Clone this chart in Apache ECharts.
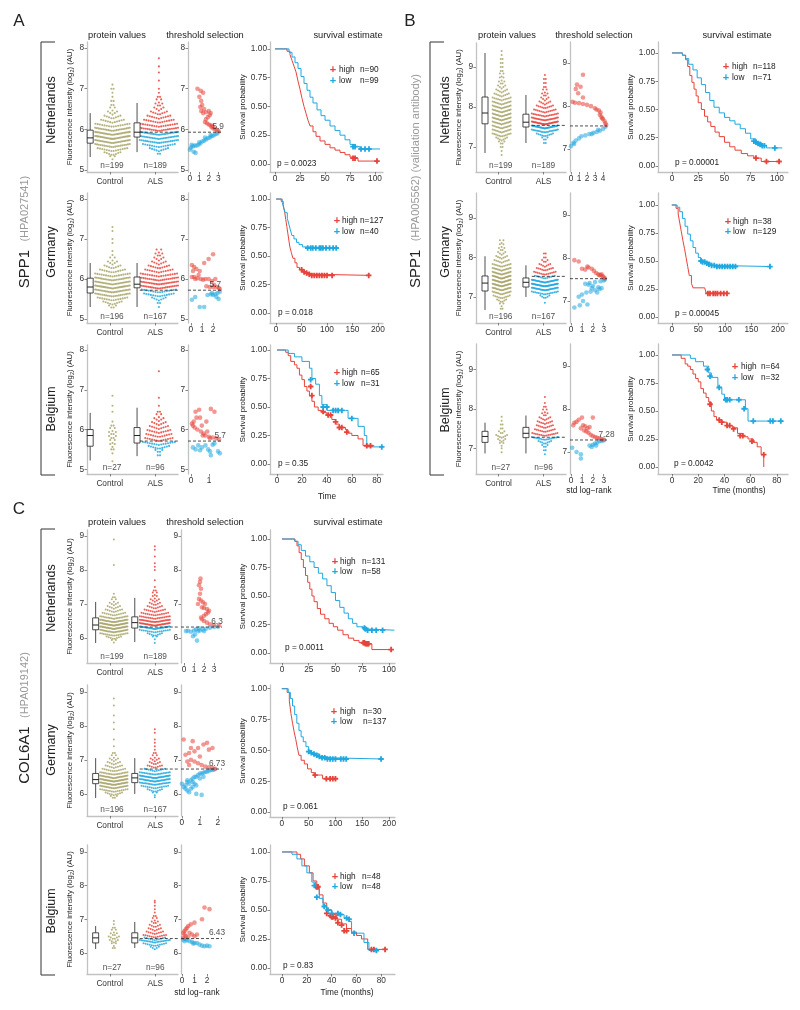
<!DOCTYPE html>
<html><head><meta charset="utf-8">
<script src="https://cdn.jsdelivr.net/npm/echarts@6/dist/echarts.min.js"></script>
<style>html,body{margin:0;padding:0;background:#fff}#c{width:800px;height:1010px}</style>
</head><body><div id="c"></div>
<script>
// ================= DATA =================
// protein values: [value bin, count]; box: [low whisker, q1, median, q3, high whisker]
// ---- A: SPP1 (HPA027541)
const A1_ctrl = [[5.3,3],[5.4,8],[5.5,14],[5.6,20],[5.7,26],[5.8,28],[5.9,26],[6.0,22],[6.1,16],[6.2,11],[6.3,8],[6.4,5],[6.5,3],[6.6,2],[6.7,2],[6.8,1],[6.9,1],[7.0,2],[7.1,1]];
const A1_als = [[5.4,2],[5.5,9],[5.6,15],[5.7,22],[5.8,25],[5.9,26],[6.0,20],[6.1,17],[6.2,14],[6.3,11],[6.4,8],[6.5,5],[6.6,4],[6.7,3],[6.8,2],[6.9,1],[7.0,1],[7.2,1],[7.4,1],[7.55,1],[7.75,1]];
const A1_ctrlBox = [5.32,5.66,5.79,5.98,6.40];
const A1_alsBox = [5.44,5.81,5.93,6.16,6.65];
const A1_thr = 5.93, A1_thrLabel = '5.9', A1_n = ['n=199','n=189'];
const A1_thrHigh = [[3.05,5.95],[2.9,5.98],[2.7,6.0],[2.5,6.02],[2.3,6.05],[2.2,6.1],[2.0,6.12],[1.8,6.15],[1.6,6.18],[1.7,6.25],[1.9,6.3],[2.1,6.35],[2.2,6.4],[2.0,6.45],[1.7,6.42],[1.4,6.4],[1.2,6.45],[1.1,6.55],[1.3,6.6],[1.2,6.7],[1.0,6.8],[1.4,6.9],[0.8,7.0],[1.15,6.95],[2.4,6.08],[1.5,6.5]];
const A1_thrLow = [[0,5.5],[0.1,5.55],[0.3,5.58],[0.5,5.6],[0.7,5.6],[0.9,5.62],[1.1,5.65],[1.3,5.7],[1.5,5.72],[1.7,5.75],[1.9,5.78],[2.1,5.8],[2.3,5.83],[2.5,5.85],[2.7,5.88],[2.9,5.9],[0.4,5.45],[0.6,5.42],[0.2,5.62],[1.0,5.68],[1.6,5.8],[2.2,5.86]];
const A1_kmHigh = [[0,1],[12,0.98],[15,0.95],[17,0.9],[19,0.85],[21,0.8],[23,0.72],[25,0.65],[27,0.57],[29,0.5],[31,0.44],[33,0.38],[35,0.33],[38,0.28],[41,0.24],[45,0.2],[50,0.17],[55,0.14],[60,0.12],[65,0.1],[70,0.08],[75,0.06],[80,0.05],[83,0.025],[102,0.025]];
const A1_kmLow = [[0,1],[14,0.97],[17,0.93],[20,0.88],[23,0.83],[26,0.76],[29,0.7],[32,0.64],[35,0.58],[38,0.53],[42,0.47],[46,0.42],[50,0.38],[55,0.33],[60,0.29],[65,0.25],[70,0.21],[75,0.17],[80,0.15],[85,0.13],[105,0.13]];
const A1_cenHigh = [[78,0.05],[80,0.05],[102,0.025]];
const A1_cenLow = [[78,0.15],[80,0.15],[86,0.13],[90,0.13],[94,0.13]];
const A1_legN = ['n=90','n=99'], A1_p = 'p = 0.0023';

const A2_ctrl = [[5.3,4],[5.4,9],[5.5,14],[5.6,20],[5.7,24],[5.8,27],[5.9,25],[6.0,22],[6.1,17],[6.2,12],[6.3,8],[6.4,5],[6.5,3],[6.6,1],[6.7,1],[6.9,1],[7.0,1],[7.2,1],[7.3,1]];
const A2_als = [[5.3,1],[5.4,2],[5.5,7],[5.6,14],[5.7,16],[5.8,23],[5.9,24],[6.0,21],[6.1,17],[6.2,13],[6.3,10],[6.4,7],[6.5,5],[6.6,4],[6.7,3]];
const A2_ctrlBox = [5.3,5.65,5.8,6.02,6.4];
const A2_alsBox = [5.3,5.78,5.87,6.05,6.4];
const A2_thr = 5.72, A2_thrLabel = '5.7', A2_n = ['n=196','n=167'];
const A2_thrHigh = [[0.1,6.35],[0.3,6.3],[0.2,6.2],[0.5,6.25],[0.8,6.2],[1.2,6.4],[1.6,6.5],[2.0,6.62],[0.1,6.05],[0.3,6.05],[0.6,6.02],[0.9,6.0],[1.1,5.98],[1.3,6.0],[1.6,6.0],[1.9,5.95],[2.1,5.85],[2.3,5.8],[2.5,5.78],[1.4,5.82],[1.7,5.8],[2.0,5.8],[2.6,5.75],[0.4,6.0],[2.2,6.0],[0.7,6.1]];
const A2_thrLow = [[1.8,5.62],[2.0,5.6],[2.2,5.62],[2.4,5.65],[2.6,5.68],[1.5,5.6],[0.1,5.48],[0.4,5.55],[0.8,5.3],[1.2,5.3],[2.3,5.55],[2.5,5.5],[1.9,5.65]];
const A2_kmHigh = [[0,1],[10,0.98],[14,0.95],[17,0.88],[19,0.82],[21,0.76],[23,0.7],[25,0.64],[27,0.58],[30,0.53],[33,0.48],[37,0.44],[41,0.4],[46,0.38],[52,0.36],[58,0.35],[65,0.34],[75,0.33],[185,0.33]];
const A2_kmLow = [[0,1],[12,0.97],[15,0.92],[18,0.88],[22,0.83],[25,0.78],[28,0.73],[31,0.68],[35,0.65],[40,0.62],[45,0.6],[52,0.58],[60,0.57],[120,0.57]];
const A2_cenHigh = [[50,0.38],[55,0.36],[60,0.35],[65,0.34],[70,0.33],[75,0.33],[80,0.33],[85,0.33],[90,0.33],[95,0.33],[100,0.33],[110,0.33],[182,0.33]];
const A2_cenLow = [[62,0.57],[68,0.57],[72,0.57],[78,0.57],[85,0.57],[88,0.57],[92,0.57],[98,0.57],[105,0.57],[112,0.57],[118,0.57]];
const A2_legN = ['n=127','n=40'], A2_p = 'p = 0.018';

const A3_ctrl = [[5.2,1],[5.4,1],[5.5,2],[5.6,3],[5.7,3],[5.8,4],[5.9,4],[6.0,3],[6.1,2],[6.2,1],[6.45,1],[6.6,1],[6.85,1]];
const A3_als = [[5.35,2],[5.45,4],[5.55,10],[5.65,15],[5.75,13],[5.85,12],[5.95,11],[6.05,9],[6.15,7],[6.25,5],[6.35,3],[6.45,2],[6.6,1],[6.8,1],[7.47,1]];
const A3_ctrlBox = [5.22,5.58,5.85,6.0,6.42];
const A3_alsBox = [5.33,5.66,5.85,6.05,6.55];
const A3_thr = 5.71, A3_thrLabel = '5.7', A3_n = ['n=27','n=96'];
const A3_thrHigh = [[0.05,6.15],[0.1,6.1],[0.15,6.2],[0.2,6.05],[0.3,6.3],[0.25,6.45],[0.45,6.5],[0.5,6.3],[0.35,6.0],[0.55,5.95],[0.6,6.1],[0.7,5.9],[0.8,5.85],[0.9,5.95],[1.0,5.82],[1.1,6.52],[1.2,5.8],[1.3,6.45],[1.4,5.78],[1.55,5.75],[0.85,6.2],[0.65,5.85],[1.05,5.78]];
const A3_thrLow = [[0.1,5.55],[0.25,5.5],[0.4,5.6],[0.6,5.55],[0.8,5.6],[0.95,5.5],[1.1,5.35],[1.05,5.45],[1.2,5.62],[1.5,5.45],[1.6,5.4],[1.3,5.65],[0.5,5.48]];
const A3_kmHigh = [[0,1],[7,0.98],[9,0.95],[11,0.9],[14,0.87],[16,0.84],[18,0.78],[20,0.74],[22,0.68],[24,0.64],[26,0.6],[28,0.55],[30,0.5],[33,0.47],[36,0.45],[40,0.43],[44,0.39],[47,0.35],[50,0.32],[55,0.3],[57,0.27],[60,0.25],[65,0.22],[69,0.16],[78,0.16]];
const A3_kmLow = [[0,1],[9,0.97],[14,0.94],[20,0.9],[26,0.84],[28,0.75],[31,0.7],[34,0.6],[36,0.52],[40,0.47],[55,0.47],[57,0.4],[62,0.4],[65,0.33],[70,0.25],[72,0.15],[85,0.15]];
const A3_cenHigh = [[27,0.68],[28,0.6],[37,0.46],[41,0.43],[43,0.43],[47,0.37],[50,0.32],[52,0.32],[56,0.28],[72,0.16],[75,0.16]];
const A3_cenLow = [[27,0.74],[37,0.5],[40,0.5],[45,0.47],[47,0.47],[49,0.47],[52,0.47],[60,0.4],[84,0.15]];
const A3_legN = ['n=65','n=31'], A3_p = 'p = 0.35';

// ---- B: SPP1 (HPA005562) (validation antibody)
const B1_ctrl = [[6.8,1],[6.9,1],[7.0,2],[7.1,4],[7.2,7],[7.3,12],[7.4,13],[7.5,14],[7.6,15],[7.7,17],[7.8,17],[7.9,16],[8.0,15],[8.1,13],[8.2,11],[8.3,9],[8.4,7],[8.5,5],[8.6,4],[8.7,3],[8.8,3],[8.9,2],[9.0,2],[9.1,2],[9.2,2],[9.3,1],[9.4,1]];
const B1_als = [[7.1,2],[7.2,4],[7.3,10],[7.4,20],[7.5,35],[7.6,30],[7.7,22],[7.8,17],[7.9,13],[8.0,10],[8.1,7],[8.2,5],[8.3,4],[8.4,3],[8.5,2],[8.6,2],[8.7,2],[8.8,1]];
const B1_ctrlBox = [6.85,7.58,7.85,8.25,9.35];
const B1_alsBox = [7.1,7.5,7.62,7.82,8.3];
const B1_thr = 7.54, B1_thrLabel = '7.54', B1_n = ['n=199','n=189'];
const B1_thrHigh = [[4.4,7.56],[4.3,7.6],[4.2,7.65],[4.0,7.7],[3.8,7.75],[3.6,7.8],[3.7,7.85],[3.5,7.9],[3.0,7.95],[2.5,8.0],[2.0,8.03],[1.5,8.05],[1.0,8.07],[0.5,8.08],[0.2,8.1],[1.5,8.2],[0.9,8.3],[0.6,8.4],[1.2,8.45],[0.75,8.5],[1.5,8.73],[3.9,7.72],[3.2,7.92]];
const B1_thrLow = [[0,7.07],[0.3,7.15],[0.6,7.2],[1.0,7.25],[1.3,7.3],[1.8,7.32],[2.3,7.35],[2.8,7.38],[3.2,7.4],[3.6,7.43],[4.0,7.47],[4.3,7.52],[3.4,7.45],[2.6,7.35],[0.4,7.12]];
const B1_kmHigh = [[0,1],[10,0.98],[13,0.94],[15,0.88],[17,0.8],[19,0.74],[21,0.68],[23,0.62],[25,0.56],[28,0.5],[31,0.44],[34,0.39],[37,0.35],[41,0.3],[45,0.26],[50,0.21],[55,0.17],[60,0.14],[66,0.11],[72,0.09],[78,0.07],[85,0.04],[103,0.04]];
const B1_kmLow = [[0,1],[10,0.98],[13,0.95],[16,0.9],[20,0.85],[24,0.78],[28,0.72],[32,0.65],[36,0.58],[40,0.52],[45,0.47],[50,0.43],[55,0.4],[60,0.37],[65,0.33],[70,0.29],[75,0.24],[80,0.21],[85,0.18],[90,0.16],[105,0.16]];
const B1_cenHigh = [[80,0.07],[90,0.04],[102,0.04]];
const B1_cenLow = [[78,0.22],[80,0.21],[82,0.2],[84,0.19],[86,0.18],[88,0.18],[98,0.16]];
const B1_legN = ['n=118','n=71'], B1_p = 'p = 0.00001';

const B2_ctrl = [[6.7,2],[6.8,3],[6.9,6],[7.0,10],[7.1,14],[7.2,18],[7.3,22],[7.4,23],[7.5,22],[7.6,18],[7.7,15],[7.8,12],[7.9,9],[8.0,7],[8.1,5],[8.2,4],[8.3,3],[8.4,3]];
const B2_als = [[6.85,1],[7.0,6],[7.1,16],[7.2,28],[7.3,36],[7.4,30],[7.5,12],[7.6,13],[7.7,10],[7.8,7],[7.9,4],[8.0,2],[8.1,2]];
const B2_ctrlBox = [6.67,7.15,7.35,7.53,8.03];
const B2_alsBox = [7.0,7.25,7.37,7.48,7.8];
const B2_thr = 7.52, B2_thrLabel = '7.52', B2_n = ['n=196','n=167'];
const B2_thrHigh = [[0.3,7.95],[0.7,7.92],[1.0,7.75],[1.3,7.73],[1.6,7.78],[1.9,7.75],[2.1,7.7],[2.3,7.65],[2.5,7.62],[2.7,7.6],[2.9,7.58],[3.0,7.55],[3.1,7.53],[2.8,7.62],[2.6,7.6],[1.5,7.8]];
const B2_thrLow = [[0.3,6.85],[0.8,6.9],[1.1,7.0],[0.7,7.1],[1.0,7.15],[1.4,7.2],[1.8,7.22],[2.2,7.25],[2.6,7.28],[2.8,7.3],[2.5,7.32],[2.0,7.35],[1.6,7.38],[1.3,7.4],[1.7,7.42],[2.2,7.44],[2.7,7.46],[3.0,7.48],[3.1,7.5],[1.9,7.3],[2.4,7.2],[1.5,6.92]];
const B2_kmHigh = [[0,1],[8,0.97],[12,0.92],[15,0.84],[18,0.76],[21,0.68],[24,0.61],[27,0.53],[30,0.45],[33,0.37],[37,0.3],[40,0.26],[62,0.26],[65,0.21],[105,0.21]];
const B2_kmLow = [[0,1],[10,0.98],[15,0.94],[20,0.88],[25,0.81],[30,0.74],[35,0.68],[40,0.62],[45,0.57],[50,0.53],[55,0.5],[60,0.49],[65,0.48],[75,0.46],[85,0.45],[188,0.45]];
const B2_cenHigh = [[68,0.21],[72,0.21],[78,0.21],[82,0.21],[86,0.21],[92,0.21],[98,0.21],[104,0.21]];
const B2_cenLow = [[55,0.5],[58,0.49],[62,0.49],[66,0.48],[70,0.47],[75,0.46],[80,0.46],[85,0.45],[90,0.45],[95,0.45],[100,0.45],[105,0.45],[110,0.45],[115,0.45],[120,0.45],[185,0.45]];
const B2_legN = ['n=38','n=129'], B2_p = 'p = 0.00045';

const B3_ctrl = [[6.9,1],[7.0,1],[7.1,3],[7.2,5],[7.3,7],[7.4,4],[7.5,2],[7.6,2],[7.7,1],[7.8,1]];
const B3_als = [[6.85,1],[6.95,2],[7.05,4],[7.15,8],[7.25,17],[7.35,15],[7.45,12],[7.55,10],[7.65,9],[7.75,7],[7.85,4],[7.95,3],[8.05,2],[8.15,1],[8.3,1]];
const B3_ctrlBox = [6.87,7.15,7.3,7.43,7.65];
const B3_alsBox = [6.87,7.27,7.38,7.53,7.83];
const B3_thr = 7.28, B3_thrLabel = '7.28', B3_n = ['n=27','n=96'];
const B3_thrHigh = [[0.3,7.68],[0.5,7.7],[0.2,7.62],[0.7,7.75],[1.0,7.8],[1.3,7.6],[1.5,7.55],[1.2,7.5],[1.4,7.48],[1.6,7.45],[1.8,7.4],[2.0,7.37],[2.2,7.35],[2.4,7.33],[2.6,7.32],[2.8,7.3],[1.1,7.62],[1.7,7.58],[0.9,7.55],[2.0,7.8],[3.0,7.29]];
const B3_thrLow = [[0.1,7.1],[0.5,7.0],[0.9,6.95],[0.9,6.85],[1.7,7.15],[2.0,7.17],[2.2,7.2],[2.4,7.22],[2.6,7.25],[2.8,7.26],[3.0,7.27],[1.9,7.12],[2.3,7.15]];
const B3_kmHigh = [[0,1],[7,0.97],[10,0.92],[12,0.9],[14,0.87],[16,0.83],[18,0.79],[20,0.76],[22,0.7],[24,0.66],[26,0.62],[28,0.58],[30,0.5],[32,0.45],[34,0.42],[38,0.4],[42,0.37],[46,0.35],[50,0.3],[54,0.27],[58,0.25],[62,0.22],[65,0.18],[68,0.11],[70,0]];
const B3_kmLow = [[0,1],[14,0.97],[18,0.94],[24,0.9],[28,0.84],[30,0.8],[35,0.71],[38,0.65],[40,0.6],[54,0.6],[56,0.52],[58,0.41],[85,0.41]];
const B3_cenHigh = [[29,0.56],[36,0.42],[38,0.4],[42,0.37],[44,0.37],[47,0.34],[52,0.28],[54,0.28],[61,0.23],[70,0.11]];
const B3_cenLow = [[27,0.87],[29,0.81],[36,0.71],[41,0.6],[42,0.6],[44,0.6],[51,0.6],[55,0.52],[62,0.41],[75,0.41],[77,0.41],[83,0.41]];
const B3_legN = ['n=64','n=32'], B3_p = 'p = 0.0042';

// ---- C: COL6A1 (HPA019142)
const C1_ctrl = [[5.9,3],[6.0,8],[6.1,16],[6.2,24],[6.3,30],[6.4,33],[6.5,26],[6.6,18],[6.7,12],[6.8,9],[6.9,7],[7.0,5],[7.1,3],[7.2,2],[7.3,1],[8.15,1],[8.9,1]];
const C1_als = [[5.85,1],[6.0,3],[6.1,8],[6.2,16],[6.3,30],[6.4,29],[6.5,24],[6.6,18],[6.7,14],[6.8,11],[6.9,8],[7.0,6],[7.1,5],[7.2,3],[7.3,3],[7.4,2],[7.5,1],[7.7,1],[8.0,1],[8.1,1],[8.2,1],[8.4,1],[8.6,1],[8.7,1]];
const C1_ctrlBox = [5.85,6.24,6.38,6.59,7.06];
const C1_alsBox = [5.88,6.29,6.45,6.62,7.18];
const C1_thr = 6.32, C1_thrLabel = '6.3', C1_n = ['n=199','n=189'];
const C1_thrHigh = [[3.5,6.37],[3.0,6.38],[2.6,6.4],[2.3,6.45],[2.0,6.5],[1.8,6.55],[1.7,6.6],[2.0,6.65],[2.2,6.7],[2.5,6.8],[2.3,6.85],[2.0,6.88],[1.8,6.9],[2.1,7.0],[1.9,7.05],[1.7,7.1],[1.5,7.15],[1.6,7.3],[1.7,7.45],[1.5,7.55],[1.6,7.65],[1.65,7.75],[1.4,7.0],[2.4,6.75]];
const C1_thrLow = [[0.2,6.2],[0.4,6.21],[0.7,6.18],[1.0,6.22],[1.2,6.25],[1.4,6.2],[1.6,6.22],[1.9,6.25],[2.2,6.27],[2.6,6.3],[3.0,6.32],[3.4,6.33],[1.1,6.1],[1.3,5.92],[0.9,6.05],[2.0,6.2],[1.5,6.28]];
const C1_kmHigh = [[0,1],[12,0.98],[14,0.94],[16,0.88],[18,0.82],[20,0.75],[22,0.68],[24,0.62],[26,0.56],[28,0.5],[30,0.45],[33,0.39],[36,0.34],[40,0.3],[44,0.26],[48,0.23],[52,0.2],[57,0.16],[62,0.13],[67,0.11],[72,0.09],[80,0.08],[84,0.03],[103,0.03]];
const C1_kmLow = [[0,1],[12,0.98],[15,0.95],[18,0.9],[22,0.85],[26,0.8],[30,0.75],[34,0.7],[38,0.65],[42,0.59],[46,0.53],[50,0.46],[54,0.4],[58,0.35],[62,0.3],[66,0.26],[70,0.23],[76,0.21],[80,0.2],[105,0.2]];
const C1_cenHigh = [[76,0.09],[77,0.09],[78,0.08],[79,0.08],[80,0.08],[81,0.08],[102,0.03]];
const C1_cenLow = [[77,0.22],[78,0.21],[80,0.2],[84,0.2],[88,0.2],[94,0.2]];
const C1_legN = ['n=131','n=58'], C1_p = 'p = 0.0011';

const C2_ctrl = [[5.9,4],[6.0,9],[6.1,15],[6.2,22],[6.3,28],[6.4,30],[6.5,25],[6.6,18],[6.7,12],[6.8,9],[6.9,7],[7.0,5],[7.1,3],[7.2,2],[7.4,1],[7.6,1],[7.9,1],[8.1,1],[8.3,1],[8.6,1],[8.8,1]];
const C2_als = [[5.9,1],[6.0,3],[6.1,8],[6.2,14],[6.3,22],[6.4,28],[6.5,30],[6.6,20],[6.7,11],[6.8,8],[6.9,6],[7.0,5],[7.1,3],[7.2,2],[7.3,1],[7.4,1],[7.5,1],[7.6,1],[7.8,1],[7.9,1]];
const C2_ctrlBox = [5.88,6.3,6.42,6.6,7.05];
const C2_alsBox = [6.0,6.33,6.47,6.6,7.05];
const C2_thr = 6.73, C2_thrLabel = '6.73', C2_n = ['n=196','n=167'];
const C2_thrHigh = [[0.1,7.6],[0.6,7.55],[0.2,7.15],[0.4,7.2],[0.5,7.35],[0.7,7.25],[0.9,7.35],[1.0,7.1],[1.2,7.45],[1.4,7.5],[1.5,7.3],[1.7,7.35],[0.5,7.0],[0.3,6.95],[0.7,6.95],[0.9,6.9],[1.1,6.85],[1.3,6.8],[1.5,6.78],[1.7,6.76],[1.85,6.74],[0.4,6.85]];
const C2_thrLow = [[0.0,6.3],[0.1,6.2],[0.2,6.25],[0.3,6.35],[0.4,6.3],[0.5,6.4],[0.6,6.45],[0.7,6.5],[0.8,6.5],[0.9,6.55],[1.0,6.6],[1.1,6.6],[1.2,6.62],[1.3,6.65],[1.4,6.65],[1.5,6.68],[1.6,6.7],[1.7,6.7],[1.8,6.72],[0.3,6.1],[0.4,6.05],[0.5,6.15],[0.6,6.2],[0.7,6.3],[0.8,6.0],[1.1,5.97],[0.3,6.4],[0.6,6.35],[1.0,6.45],[1.2,6.5],[0.2,6.15],[0.8,6.25]];
const C2_kmHigh = [[0,1],[10,0.97],[14,0.9],[17,0.8],[20,0.72],[23,0.65],[26,0.59],[29,0.52],[32,0.46],[36,0.42],[42,0.39],[48,0.35],[55,0.32],[60,0.3],[72,0.3],[76,0.27],[100,0.27]];
const C2_kmLow = [[0,1],[12,0.97],[16,0.92],[20,0.86],[24,0.79],[28,0.72],[32,0.66],[36,0.61],[40,0.57],[45,0.53],[50,0.5],[55,0.48],[60,0.47],[70,0.45],[80,0.44],[90,0.43],[188,0.43]];
const C2_cenHigh = [[62,0.3],[83,0.27],[90,0.27],[95,0.27],[100,0.27]];
const C2_cenLow = [[50,0.49],[55,0.48],[60,0.47],[65,0.46],[70,0.45],[75,0.44],[80,0.44],[85,0.43],[90,0.43],[95,0.43],[100,0.43],[110,0.43],[115,0.43],[120,0.43],[185,0.43]];
const C2_legN = ['n=30','n=137'], C2_p = 'p = 0.061';

const C3_ctrl = [[6.15,2],[6.25,3],[6.35,5],[6.45,6],[6.55,4],[6.65,3],[6.75,2],[6.85,1],[6.95,1]];
const C3_als = [[6.15,5],[6.25,12],[6.35,20],[6.42,11],[6.5,12],[6.6,9],[6.7,7],[6.8,6],[6.9,4],[7.0,3],[7.1,2],[7.2,1],[7.3,1],[7.4,1],[7.5,1],[7.55,1]];
const C3_ctrlBox = [6.12,6.3,6.45,6.6,6.8];
const C3_alsBox = [6.15,6.3,6.45,6.6,6.92];
const C3_thr = 6.43, C3_thrLabel = '6.43', C3_n = ['n=27','n=96'];
const C3_thrHigh = [[0.1,6.6],[0.2,6.65],[0.3,6.7],[0.4,6.75],[0.5,6.8],[0.2,6.55],[0.6,6.6],[0.8,6.55],[1.0,6.5],[1.2,6.55],[0.7,6.85],[1.0,6.9],[1.6,7.0],[2.2,7.3],[1.8,7.35],[0.3,6.5],[0.5,6.48],[0.1,6.45]];
const C3_thrLow = [[0.1,6.4],[0.2,6.35],[0.4,6.38],[0.6,6.35],[0.8,6.33],[1.0,6.3],[1.2,6.3],[1.4,6.25],[1.6,6.22],[1.8,6.2],[2.0,6.22],[2.2,6.2],[0.3,6.42],[0.9,6.28]];
const C3_kmHigh = [[0,1],[12,0.98],[15,0.94],[18,0.88],[22,0.82],[25,0.75],[28,0.7],[30,0.63],[33,0.56],[36,0.5],[40,0.46],[44,0.42],[48,0.38],[52,0.34],[56,0.31],[60,0.28],[64,0.25],[69,0.16],[84,0.16]];
const C3_kmLow = [[0,1],[8,0.98],[12,0.94],[16,0.88],[20,0.82],[24,0.74],[27,0.68],[30,0.6],[33,0.54],[36,0.5],[40,0.47],[46,0.46],[50,0.43],[54,0.4],[56,0.3],[62,0.3],[66,0.22],[70,0.15],[77,0.15]];
const C3_cenHigh = [[28,0.7],[29,0.7],[36,0.47],[39,0.45],[40,0.44],[41,0.44],[43,0.43],[45,0.39],[48,0.37],[50,0.32],[52,0.32],[72,0.16],[74,0.16],[83,0.16]];
const C3_cenLow = [[26,0.71],[28,0.61],[34,0.53],[37,0.5],[40,0.47],[45,0.47],[47,0.46],[52,0.43],[54,0.42],[58,0.3],[76,0.15]];
const C3_legN = ['n=48','n=48'], C3_p = 'p = 0.83';

// tick labels
const TICKS_A = [5,6,7,8], TICKS_B = [7,8,9], TICKS_C = [6,7,8,9];
const TICKS_S = [0,0.25,0.5,0.75,1];
const CATS = ['Control','ALS'];

// ================= STYLE / LAYOUT =================
const FONT = '"Liberation Sans", Arial, Helvetica, sans-serif';
const RED = '#E8433B', BLUE = '#20A8E0', OLIVE = '#A8A469', AXC = '#C2C2C2', TXT = '#222';
const PLUS = 'path://M2,0h2v2h2v2h-2v2h-2v-2h-2v-2h2z';
const SW_A = {cBox:-0.43, cCen:0.06, cHalf:0.38, aBox:-0.40, aCen:0.08, aHalf:0.42, step:0.05, dot:2.1, chev:0.075, nameGap:12, sGap:18};
const SW_B = {cBox:-0.30, cCen:0.07, cHalf:0.20, aBox:-0.39, aCen:0.03, aHalf:0.29, step:0.04, dot:2.0, chev:0.07, nameGap:12, sGap:16};
const SW_C = {cBox:-0.31, cCen:0.09, cHalf:0.30, aBox:-0.45, aCen:-0.01, aHalf:0.33, step:0.045, dot:2.0, chev:0.075, nameGap:12, sGap:18};

const ROWS = [
 {sw:SW_A, yt:TICKS_A, prot:[87,42,91,130], pY:[4.95,8.15], thrRect:[188,42,34,130], tX:[-0.2,3.4], tXT:[0,1,2,3], tY:[4.95,8.15], tLX:3.0,
  surv:[270,42,113,130], sX:[-5,108], sXT:[0,25,50,75,100], sY:[-0.07,1.06], leg:[333,70,81,339,360], pPos:[277,164],
  d:{ctrl:A1_ctrl, als:A1_als, cb:A1_ctrlBox, ab:A1_alsBox, thr:A1_thr, tl:A1_thrLabel, n:A1_n, th:A1_thrHigh, tlo:A1_thrLow, kh:A1_kmHigh, kl:A1_kmLow, ch:A1_cenHigh, cl:A1_cenLow, ln:A1_legN, p:A1_p}},
 {sw:SW_A, yt:TICKS_A, prot:[87,193,91,130], pY:[4.9,8.15], thrRect:[188,193,34,130], tX:[-0.25,2.8], tXT:[0,1,2], tY:[4.9,8.15], tLX:2.2,
  surv:[270,193,113,130], sX:[-12,210], sXT:[0,50,100,150,200], sY:[-0.088,1.053], leg:[337,221,232,342,360], pPos:[278,313],
  d:{ctrl:A2_ctrl, als:A2_als, cb:A2_ctrlBox, ab:A2_alsBox, thr:A2_thr, tl:A2_thrLabel, n:A2_n, th:A2_thrHigh, tlo:A2_thrLow, kh:A2_kmHigh, kl:A2_kmLow, ch:A2_cenHigh, cl:A2_cenLow, ln:A2_legN, p:A2_p}},
 {sw:SW_A, yt:TICKS_A, prot:[87,345,91,129], pY:[4.88,8.13], thrRect:[188,345,34,129], tX:[-0.17,1.72], tXT:[0,1], tY:[4.88,8.13], tLX:1.62,
  surv:[270,345,113,129], sX:[-5.6,85], sXT:[0,20,40,60,80], sY:[-0.088,1.044], leg:[337,373,384,342,361], pPos:[278,464],
  d:{ctrl:A3_ctrl, als:A3_als, cb:A3_ctrlBox, ab:A3_alsBox, thr:A3_thr, tl:A3_thrLabel, n:A3_n, th:A3_thrHigh, tlo:A3_thrLow, kh:A3_kmHigh, kl:A3_kmLow, ch:A3_cenHigh, cl:A3_cenLow, ln:A3_legN, p:A3_p}},
 {sw:SW_B, yt:TICKS_B, prot:[476,43,90,129], pY:[6.375,9.6], thrRect:[570,42,37,130], tX:[-0.12,4.5], tXT:[0,1,2,3,4], tY:[6.47,9.49], tLX:4.55,
  surv:[658,42,130,130], sX:[-13.3,110.5], sXT:[0,25,50,75,100], sY:[-0.053,1.097], leg:[726,67,78,732,753], pPos:[675,163],
  d:{ctrl:B1_ctrl, als:B1_als, cb:B1_ctrlBox, ab:B1_alsBox, thr:B1_thr, tl:B1_thrLabel, n:B1_n, th:B1_thrHigh, tlo:B1_thrLow, kh:B1_kmHigh, kl:B1_kmLow, ch:B1_cenHigh, cl:B1_cenLow, ln:B1_legN, p:B1_p}},
 {sw:SW_B, yt:TICKS_B, prot:[476,193,90,130], pY:[6.34,9.63], thrRect:[570,193,37,130], tX:[-0.1,3.3], tXT:[0,1,2,3], tY:[6.49,9.51], tLX:3.35,
  surv:[658,193,130,130], sX:[-26,219], sXT:[0,50,100,150,200], sY:[-0.054,1.107], leg:[728,222,232,733,753], pPos:[675,314],
  d:{ctrl:B2_ctrl, als:B2_als, cb:B2_ctrlBox, ab:B2_alsBox, thr:B2_thr, tl:B2_thrLabel, n:B2_n, th:B2_thrHigh, tlo:B2_thrLow, kh:B2_kmHigh, kl:B2_kmLow, ch:B2_cenHigh, cl:B2_cenLow, ln:B2_legN, p:B2_p}},
 {sw:SW_B, yt:TICKS_B, prot:[476,344,90,130], pY:[6.35,9.64], thrRect:[570,344,37,130], tX:[-0.1,3.3], tXT:[0,1,2,3], tY:[6.49,9.51], tLX:3.25,
  surv:[658,344,130,130], sX:[-10.7,88.5], sXT:[0,20,40,60,80], sY:[-0.0625,1.098], leg:[735,367,378,741,761], pPos:[674,464],
  d:{ctrl:B3_ctrl, als:B3_als, cb:B3_ctrlBox, ab:B3_alsBox, thr:B3_thr, tl:B3_thrLabel, n:B3_n, th:B3_thrHigh, tlo:B3_thrLow, kh:B3_kmHigh, kl:B3_kmLow, ch:B3_cenHigh, cl:B3_cenLow, ln:B3_legN, p:B3_p}},
 {sw:SW_C, yt:TICKS_C, prot:[87,530,91,133], pY:[5.26,9.18], thrRect:[181,530,41,133], tX:[-0.3,3.8], tXT:[0,1,2,3], tY:[5.26,9.18], tLX:3.3,
  surv:[270,530,125,133], sX:[-11.2,105.6], sXT:[0,25,50,75,100], sY:[-0.088,1.079], leg:[335,562,572,340,362], pPos:[285,648],
  d:{ctrl:C1_ctrl, als:C1_als, cb:C1_ctrlBox, ab:C1_alsBox, thr:C1_thr, tl:C1_thrLabel, n:C1_n, th:C1_thrHigh, tlo:C1_thrLow, kh:C1_kmHigh, kl:C1_kmLow, ch:C1_cenHigh, cl:C1_cenLow, ln:C1_legN, p:C1_p}},
 {sw:SW_C, yt:TICKS_C, prot:[87,685,91,131], pY:[5.35,9.2], thrRect:[181,685,41,131], tX:[-0.05,2.23], tXT:[0,1,2], tY:[5.35,9.2], tLX:1.95,
  surv:[270,685,125,132], sX:[-22,211], sXT:[0,50,100,150,200], sY:[-0.04,1.03], leg:[334,712,722,340,363], pPos:[283,807],
  d:{ctrl:C2_ctrl, als:C2_als, cb:C2_ctrlBox, ab:C2_alsBox, thr:C2_thr, tl:C2_thrLabel, n:C2_n, th:C2_thrHigh, tlo:C2_thrLow, kh:C2_kmHigh, kl:C2_kmLow, ch:C2_cenHigh, cl:C2_cenLow, ln:C2_legN, p:C2_p}},
 {sw:SW_C, yt:TICKS_C, prot:[87,845,91,129], pY:[5.38,9.2], thrRect:[181,845,41,129], tX:[-0.08,3.2], tXT:[0,1,2], tY:[5.38,9.2], tLX:2.8,
  surv:[270,845,125,129], sX:[-9.7,91], sXT:[0,20,40,60,80], sY:[-0.052,1.06], leg:[335,877,887,340,362], pPos:[283,966],
  d:{ctrl:C3_ctrl, als:C3_als, cb:C3_ctrlBox, ab:C3_alsBox, thr:C3_thr, tl:C3_thrLabel, n:C3_n, th:C3_thrHigh, tlo:C3_thrLow, kh:C3_kmHigh, kl:C3_kmLow, ch:C3_cenHigh, cl:C3_cenLow, ln:C3_legN, p:C3_p}}
];

// ================= BUILD =================
const option = {animation:false, backgroundColor:'#ffffff', textStyle:{fontFamily:FONT},
  grid:[], xAxis:[], yAxis:[], series:[], graphic:[]};

function addGrid(r){ option.grid.push({left:r[0], top:r[1], width:r[2], height:r[3]}); return option.grid.length-1; }
function vAxis(gi, min, max, ticks, o){
  o = o || {};
  const a = {type:'value', gridIndex:gi, min:min, max:max,
    axisLine:{show:o.line!==false, onZero:false, lineStyle:{color:AXC, width:1.3}},
    axisTick:{show:true, length:2.5, customValues:ticks, lineStyle:{color:'#555', width:0.7}},
    axisLabel:{show:true, customValues:ticks, fontSize:8.3, color:'#333', margin:o.margin||3, fontFamily:FONT, hideOverlap:false},
    splitLine:{show:false}};
  if (o.fmt) a.axisLabel.formatter = o.fmt;
  if (o.name){ a.name=o.name; a.nameLocation='middle'; a.nameGap=o.nameGap;
    a.nameTextStyle={fontSize:7.8, color:TXT, fontFamily:FONT, rich:{s:{fontSize:5.5, padding:[4,0,0,0], fontFamily:FONT, color:TXT}}}; }
  return a;
}
// beeswarm layout: each bin becomes a row; row points fan out from the centre,
// drawn as a shallow chevron across the bin width (like ggbeeswarm rows)
function swarm(bins, center, half, step, chev, thr){
  const lo=[], hi=[];
  bins.forEach(function(b){
    const v=b[0], n=b[1];
    const dx = n>1 ? Math.min(step, 2*half/(n-1)) : 0;
    const maxO = (n-1)/2*dx || 1;
    for (let i=0;i<n;i++){
      const o=(i-(n-1)/2)*dx;
      const y = n>2 ? v + chev*(Math.abs(o)/maxO - 0.5) : v;
      const p=[center+o, y];
      if (thr!=null && v>thr) hi.push(p); else lo.push(p);
    }
  });
  return {lo:lo, hi:hi};
}
function scat(gi, data, color, size, opacity, symbol){
  return {type:'scatter', xAxisIndex:gi, yAxisIndex:gi, data:data, symbol:symbol||'circle', symbolSize:size,
    itemStyle:{color:color, opacity:opacity}, silent:true, z:3};
}
function textPt(gi, data, pos, fs){
  return {type:'scatter', xAxisIndex:gi, yAxisIndex:gi, data:data, symbolSize:1, itemStyle:{color:'rgba(0,0,0,0)'}, silent:true, z:5,
    label:{show:true, position:pos, distance:1, fontSize:fs||8.3, color:TXT, fontFamily:FONT, formatter:function(p){return p.data[2];}}};
}
function boxSeries(gi, data){
  return {type:'custom', xAxisIndex:gi, yAxisIndex:gi, data:data, silent:true, z:4, encode:{x:0, y:[1,2,3,4,5]},
    renderItem:function(params, api){
      const x=api.value(0);
      const lo=api.coord([x,api.value(1)]), q1=api.coord([x,api.value(2)]), md=api.coord([x,api.value(3)]), q3=api.coord([x,api.value(4)]), hi=api.coord([x,api.value(5)]);
      const hw=3, st={stroke:'#222', lineWidth:0.8};
      return {type:'group', children:[
        {type:'line', shape:{x1:lo[0],y1:lo[1],x2:q1[0],y2:q1[1]}, style:st},
        {type:'line', shape:{x1:q3[0],y1:q3[1],x2:hi[0],y2:hi[1]}, style:st},
        {type:'rect', shape:{x:q3[0]-hw, y:q3[1], width:2*hw, height:q1[1]-q3[1]}, style:{stroke:'#222', lineWidth:0.8, fill:'#fff'}},
        {type:'line', shape:{x1:md[0]-hw,y1:md[1],x2:md[0]+hw,y2:md[1]}, style:{stroke:'#222', lineWidth:1}}
      ]};
    }};
}
function dashed(gi, data){
  return {type:'line', xAxisIndex:gi, yAxisIndex:gi, data:data, symbol:'none', silent:true, z:4,
    lineStyle:{color:'#222', width:0.8, type:[3,2]}};
}
function txt(x, y, text, size, o){
  o = o || {};
  option.graphic.push({type:'text', x:x, y:y, rotation:o.rot||0, silent:true, z:10,
    style:{text:text, fontSize:size, fontFamily:FONT, fill:o.color||TXT, align:o.align||'center', verticalAlign:o.va||'middle', fontWeight:o.weight||'normal', rich:o.rich}});
}

ROWS.forEach(function(R){
  const d=R.d, sw=R.sw;
  // ---- protein values
  let g = addGrid(R.prot);
  option.xAxis.push(vAxis(g, 0, 2, [0.5,1.5], {margin:6, fmt:function(v){return v<1?CATS[0]:CATS[1];}}));
  option.yAxis.push(vAxis(g, R.pY[0], R.pY[1], R.yt, {name:'Fluorescence intensity (log{s|2}) (AU)', nameGap:sw.nameGap}));
  const cs = swarm(d.ctrl, 0.5+sw.cCen, sw.cHalf, sw.step, sw.chev, null);
  const as = swarm(d.als, 1.5+sw.aCen, sw.aHalf, sw.step, sw.chev, d.thr);
  option.series.push(scat(g, cs.lo, OLIVE, sw.dot, 0.85));
  option.series.push(scat(g, as.lo, BLUE, sw.dot, 0.85));
  option.series.push(scat(g, as.hi, RED, sw.dot, 0.85));
  option.series.push(boxSeries(g, [[0.5+sw.cBox].concat(d.cb), [1.5+sw.aBox].concat(d.ab)]));
  option.series.push(dashed(g, [[1.5+sw.aCen-sw.aHalf, d.thr],[2, d.thr]]));
  const ny = R.pY[0] + 0.045*(R.pY[1]-R.pY[0]);
  option.series.push(textPt(g, [[0.55, ny, d.n[0]],[1.5, ny, d.n[1]]], 'inside', 8.3));
  // ---- threshold selection
  g = addGrid(R.thrRect);
  option.xAxis.push(vAxis(g, R.tX[0], R.tX[1], R.tXT, {line:false}));
  option.yAxis.push(vAxis(g, R.tY[0], R.tY[1], R.yt));
  option.series.push(scat(g, d.tlo, BLUE, 4.6, 0.55));
  option.series.push(scat(g, d.th, RED, 4.6, 0.55));
  option.series.push(dashed(g, [[R.tX[0], d.thr],[R.tX[1], d.thr]]));
  option.series.push(textPt(g, [[R.tLX, d.thr, d.tl]], 'top', 8.3));
  // ---- survival estimate
  g = addGrid(R.surv);
  option.xAxis.push(vAxis(g, R.sX[0], R.sX[1], R.sXT));
  option.yAxis.push(vAxis(g, R.sY[0], R.sY[1], TICKS_S, {fmt:function(v){return v.toFixed(2);}, name:'Survival probability', nameGap:sw.sGap}));
  option.series.push({type:'line', xAxisIndex:g, yAxisIndex:g, data:d.kh, step:'end', symbol:'none', silent:true, lineStyle:{color:RED, width:1}});
  option.series.push({type:'line', xAxisIndex:g, yAxisIndex:g, data:d.kl, step:'end', symbol:'none', silent:true, lineStyle:{color:BLUE, width:1}});
  option.series.push(scat(g, d.ch, RED, 5.5, 1, PLUS));
  option.series.push(scat(g, d.cl, BLUE, 5.5, 1, PLUS));
  // legend + p-value
  const L = R.leg;
  txt(L[0], L[1], '+', 11, {color:RED, weight:'bold'});
  txt(L[0], L[2], '+', 11, {color:BLUE, weight:'bold'});
  txt(L[3], L[1], 'high', 8.3, {align:'left'});
  txt(L[3], L[2], 'low', 8.3, {align:'left'});
  txt(L[4], L[1], d.ln[0], 8.3, {align:'left'});
  txt(L[4], L[2], d.ln[1], 8.3, {align:'left'});
  txt(R.pPos[0], R.pPos[1], d.p, 8.3, {align:'left'});
});

// panel letters & headers
txt(19, 21, 'A', 17); txt(410, 21, 'B', 17); txt(19, 509, 'C', 17);
[[117,35],[205,35],[348,35],[507,35],[594,35],[737,35],[117,522],[205,522],[348,522]].forEach(function(p, i){
  txt(p[0], p[1], ['protein values','threshold selection','survival estimate'][i%3], 9.3);
});
// group brackets
[[41,42,475],[430,42,475],[41,529,975]].forEach(function(b){
  option.graphic.push({type:'polyline', silent:true, shape:{points:[[b[0]+14,b[1]],[b[0],b[1]],[b[0],b[2]],[b[0]+14,b[2]]]},
    style:{stroke:'#333', lineWidth:1, fill:'none'}});
});
const RICH = {a:{fontSize:15, fill:TXT, color:TXT, fontFamily:FONT}, b:{fontSize:11, fill:'#9a9a9a', color:'#9a9a9a', fontFamily:FONT}};
txt(25, 232, '{a|SPP1}  {b|(HPA027541)}', 15, {rot:Math.PI/2, rich:RICH});
txt(416, 181, '{a|SPP1}  {b|(HPA005562) (validation antibody)}', 15, {rot:Math.PI/2, rich:RICH});
txt(25, 718, '{a|COL6A1}  {b|(HPA019142)}', 15, {rot:Math.PI/2, rich:RICH});
// row labels
[[52,110,'Netherlands'],[52,252,'Germany'],[52,409,'Belgium'],[446,110,'Netherlands'],[446,252,'Germany'],[446,410,'Belgium'],[52,598,'Netherlands'],[52,750,'Germany'],[52,911,'Belgium']].forEach(function(r){
  txt(r[0], r[1], r[2], 12.5, {rot:Math.PI/2});
});
// axis titles at bottoms
txt(327, 497, 'Time', 8.3);
txt(739, 491, 'Time (months)', 8.3);
txt(347, 993, 'Time (months)', 8.3);
txt(589, 491, 'std log\u2212rank', 8.3);
txt(197, 993, 'std log\u2212rank', 8.3);

const chart = echarts.init(document.getElementById('c'), null, {renderer:'canvas'});
chart.setOption(option);
</script></body></html>
